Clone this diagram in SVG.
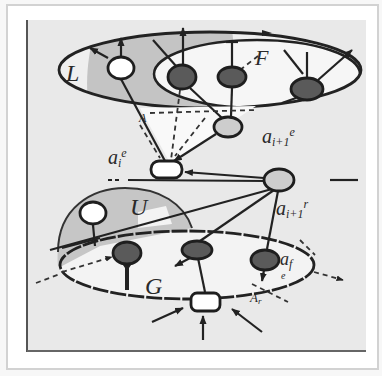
<svg xmlns="http://www.w3.org/2000/svg" width="382" height="376" viewBox="0 0 382 376">
<style>
.ln{stroke:#222;stroke-width:2.2;fill:none}
.dl{stroke:#333;stroke-width:1.8;fill:none;stroke-dasharray:5 4}
.dk{fill:#5a5a5a;stroke:#1e1e1e;stroke-width:2.8}
.wt{fill:#fff;stroke:#1e1e1e;stroke-width:2.8}
.lg{fill:#cdcdcd;stroke:#1e1e1e;stroke-width:2.8}
.t{font-family:"Liberation Serif",serif;font-style:italic;fill:#2a2a2a}
.s{font-size:12px}
</style>
<defs>
<marker id="ah" viewBox="0 0 10 10" refX="9" refY="5" markerWidth="4" markerHeight="4" orient="auto"><path d="M0,1 L10,5 L0,9z" fill="#222"/></marker>
<clipPath id="topc"><ellipse cx="210" cy="70" rx="151" ry="38"/></clipPath>
</defs>
<rect width="382" height="376" fill="#f7f7f7"/>
<rect x="7" y="5" width="371" height="364" fill="#fff" stroke="#d2d2d2" stroke-width="2"/>
<rect x="27" y="20" width="339" height="331" fill="#e9e9e9"/>
<line x1="27" y1="20" x2="27" y2="352" stroke="#555" stroke-width="2"/>
<line x1="27" y1="351" x2="366" y2="351" stroke="#666" stroke-width="2"/>

<g id="top-layer">
<ellipse cx="210" cy="70" rx="151" ry="38" fill="#efefef"/>
<g clip-path="url(#topc)">
<path d="M95,28 C88,55 84,85 90,112 L240,112 L232,28 Z" fill="#c4c4c4"/>
<ellipse cx="257" cy="74" rx="103" ry="34" fill="#f6f6f6" stroke="#222" stroke-width="2.5"/>
</g>
<ellipse cx="210" cy="70" rx="151" ry="38" fill="none" stroke="#222" stroke-width="2.8"/>
<path d="M140,108 L256,106 L170,163 Z" fill="#f9f9f9"/>
</g>

<g id="bottom-layer">
<ellipse cx="187" cy="265" rx="127" ry="34" fill="#f3f3f3"/>
<path d="M58,266 C54,210 92,188 125,188 C160,188 184,204 192,228 L100,246 L62,266 Z" fill="#c6c6c6"/>
<path d="M58,252 C58,208 92,188 125,188 C160,188 184,204 192,228" fill="none" stroke="#333" stroke-width="2"/>
<path d="M138,212 L166,206 L172,224 L138,228 Z" fill="#f3f3f3"/>
<ellipse cx="187" cy="265" rx="127" ry="34" fill="none" stroke="#222" stroke-width="2.8" stroke-dasharray="16 2"/>
</g>

<g id="connectors">
<line class="ln" x1="121" y1="57" x2="121" y2="38" marker-end="url(#ah)"/>
<line class="ln" x1="108" y1="58" x2="90" y2="48" marker-end="url(#ah)"/>
<line class="ln" x1="153" y1="40" x2="176" y2="66"/>
<line class="ln" x1="183" y1="66" x2="183" y2="28" marker-end="url(#ah)"/>
<line class="ln" x1="232" y1="66" x2="232" y2="42"/>
<line class="ln" x1="226" y1="42" x2="238" y2="42"/>
<line class="dl" x1="240" y1="70" x2="258" y2="56"/>
<path d="M262,30 L272,33 L262,36z" fill="#222"/>
<line class="ln" x1="284" y1="50" x2="303" y2="74"/>
<line class="ln" x1="307" y1="78" x2="307" y2="52"/>
<line class="ln" x1="318" y1="80" x2="352" y2="50" marker-end="url(#ah)"/>
<line class="ln" x1="121" y1="79" x2="165" y2="161"/>
<line class="dl" x1="180" y1="90" x2="171" y2="160"/>
<line class="ln" x1="190" y1="88" x2="222" y2="118"/>
<line class="ln" x1="232" y1="88" x2="231" y2="116"/>
<line class="ln" x1="216" y1="134" x2="174" y2="161" marker-end="url(#ah)"/>
<line class="dl" x1="140" y1="125" x2="160" y2="158"/>
<line class="dl" x1="205" y1="118" x2="175" y2="156"/>
<line class="dl" x1="150" y1="113" x2="255" y2="110"/>
<line class="ln" x1="296" y1="98" x2="282" y2="103"/>
<line class="ln" x1="128" y1="180" x2="266" y2="181"/>
<line class="ln" x1="108" y1="180" x2="122" y2="180" stroke-dasharray="4 3"/>
<line class="ln" x1="330" y1="180" x2="358" y2="180"/>
<line class="ln" x1="264" y1="178" x2="185" y2="172" marker-end="url(#ah)"/>
<line class="ln" x1="272" y1="189" x2="50" y2="250"/>
<line class="ln" x1="274" y1="190" x2="200" y2="241"/>
<line class="ln" x1="278" y1="191" x2="267" y2="249"/>
<line class="ln" x1="93" y1="225" x2="95" y2="246"/>
<line class="ln" x1="62" y1="248" x2="100" y2="238"/>
<line class="dl" x1="36" y1="283" x2="60" y2="274"/>
<line class="dl" x1="62" y1="272" x2="112" y2="257" marker-end="url(#ah)"/>
<path d="M121,262 L133,262 L129,268 L129,290 L125,290 L125,268 Z" fill="#222"/>
<line class="ln" x1="190" y1="258" x2="175" y2="266" marker-end="url(#ah)"/>
<line class="ln" x1="205" y1="292" x2="198" y2="258"/>
<line class="ln" x1="264" y1="270" x2="262" y2="281" stroke-width="3" marker-end="url(#ah)"/>
<line class="dl" x1="314" y1="272" x2="343" y2="280" marker-end="url(#ah)"/>
<line class="dl" x1="252" y1="284" x2="288" y2="302"/>
<line class="dl" x1="300" y1="240" x2="315" y2="255"/>
<line class="ln" x1="152" y1="322" x2="183" y2="308" marker-end="url(#ah)"/>
<line class="ln" x1="262" y1="332" x2="232" y2="309" marker-end="url(#ah)"/>
<line class="ln" x1="203" y1="340" x2="203" y2="316" stroke-width="3" marker-end="url(#ah)"/>
</g>

<g id="node-top-white"><ellipse class="wt" cx="121" cy="68" rx="13" ry="11"/></g>
<g id="node-top-dark1"><ellipse class="dk" cx="182" cy="77" rx="14" ry="12"/></g>
<g id="node-top-dark2"><ellipse class="dk" cx="232" cy="77" rx="14" ry="10"/></g>
<g id="node-top-dark3"><ellipse class="dk" cx="307" cy="89" rx="16" ry="11"/></g>
<g id="node-ae-next"><ellipse class="lg" cx="228" cy="127" rx="14" ry="10"/></g>
<g id="node-ae"><rect class="wt" x="151" y="161" width="31" height="17" rx="8"/></g>
<g id="node-ar-next"><ellipse class="lg" cx="279" cy="180" rx="15" ry="11"/></g>
<g id="node-u-white"><ellipse class="wt" cx="93" cy="213" rx="13" ry="11"/></g>
<g id="node-low-dark1"><ellipse class="dk" cx="127" cy="253" rx="14" ry="11"/></g>
<g id="node-low-dark2"><ellipse class="dk" cx="197" cy="250" rx="15" ry="9"/></g>
<g id="node-low-dark3"><ellipse class="dk" cx="265" cy="260" rx="14" ry="10"/></g>
<g id="node-bottom"><rect class="wt" x="191" y="293" width="29" height="18" rx="6"/></g>

<g id="labels">
<text class="t" x="66" y="81" font-size="24">L</text>
<text class="t" x="255" y="65" font-size="22">F</text>
<text class="t" x="139" y="122" font-size="12">A</text>
<text class="t" x="262" y="143" font-size="20">a<tspan class="s" dy="3">i+1</tspan><tspan class="s" dy="-10">e</tspan></text>
<text class="t" x="108" y="164" font-size="20">a<tspan class="s" dy="3">i</tspan><tspan class="s" dy="-10">e</tspan></text>
<text class="t" x="130" y="215" font-size="24">U</text>
<text class="t" x="276" y="215" font-size="20">a<tspan class="s" dy="3">i+1</tspan><tspan class="s" dy="-10">r</tspan></text>
<text class="t" x="145" y="294" font-size="24">G</text>
<text class="t" x="280" y="265" font-size="18">a<tspan class="s" dy="3">f</tspan></text>
<text class="t" x="281" y="279" font-size="10">e</text>
<text class="t" x="250" y="302" font-size="13">A<tspan font-size="9" dy="2">r</tspan></text>
</g>
</svg>
